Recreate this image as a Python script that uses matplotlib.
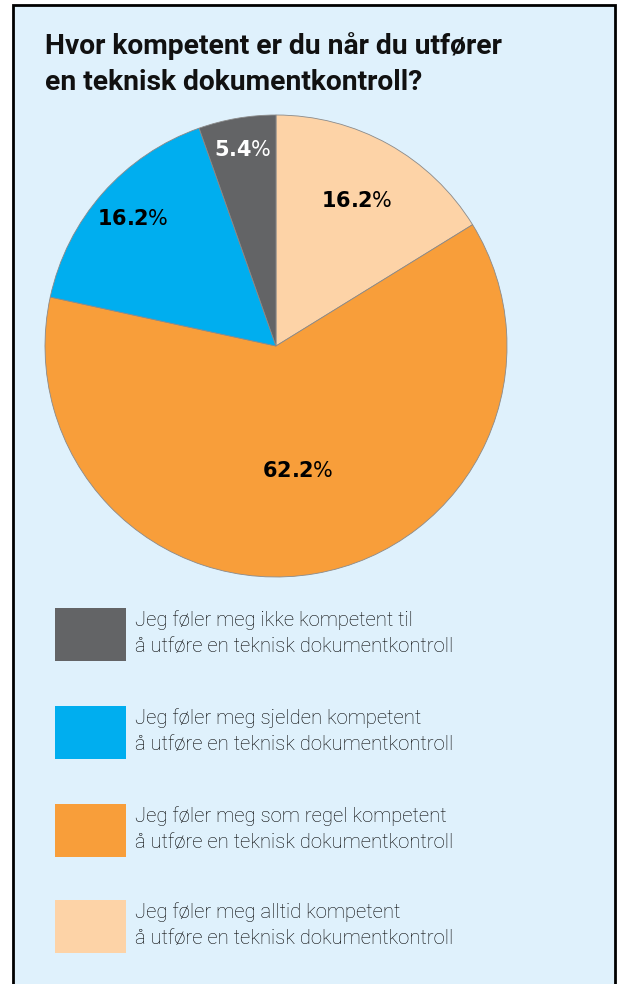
import matplotlib.pyplot as plt
from matplotlib.patches import Rectangle
import numpy as np

title = 'Hvor kompetent er du når du utfører\nen teknisk dokumentkontroll?'
values = [16.2, 62.2, 16.2, 5.4]
colors = ['#fdd3a7', '#f89e3a', '#00aeef', '#636466']
label_colors = ['black', 'black', 'black', 'white']
label_r = [0.72, 0.55, 0.83, 0.86]

legend_labels = [
    'Jeg føler meg ikke kompetent til\nå utføre en teknisk dokumentkontroll',
    'Jeg føler meg sjelden kompetent\nå utføre en teknisk dokumentkontroll',
    'Jeg føler meg som regel kompetent\nå utføre en teknisk dokumentkontroll',
    'Jeg føler meg alltid kompetent\nå utføre en teknisk dokumentkontroll',
]
legend_colors = ['#636466', '#00aeef', '#f89e3a', '#fdd3a7']

W, H = 625, 984
fig = plt.figure(figsize=(W / 100, H / 100), dpi=100)
fig.patch.set_facecolor('white')

# background axes in pixel coords (y downwards)
bg = fig.add_axes([0, 0, 1, 1])
bg.set_xlim(0, W)
bg.set_ylim(H, 0)
bg.axis('off')
bg.add_patch(Rectangle((13, 5), 602, 1000, facecolor='#dff1fc', edgecolor='black', linewidth=2))

bg.text(45, 64, title, fontsize=20.3, fontweight='bold', family='Roboto',
        va='center', ha='left', linespacing=1.45, color='#111111')

# pie
cx, cy, r = 276, 346, 231
ax = fig.add_axes([(cx - r) / W, 1 - (cy + r) / H, 2 * r / W, 2 * r / H])
wedges, _ = ax.pie(values, colors=colors, startangle=90, counterclock=False,
                   wedgeprops=dict(edgecolor='#8a8a8a', linewidth=0.6))
ax.set_xlim(-1, 1)
ax.set_ylim(-1, 1)
ax.set_aspect('auto')

for w, v, c, rr in zip(wedges, values, label_colors, label_r):
    ang = np.deg2rad((w.theta1 + w.theta2) / 2)
    ax.text(rr * np.cos(ang), rr * np.sin(ang), r'$\mathbf{%.1f}$%%' % v,
            ha='center', va='center', fontsize=15, color=c)

# legend
box_y = [608, 706, 804, 900]
for y, lab, col in zip(box_y, legend_labels, legend_colors):
    bg.add_patch(Rectangle((55, y), 71, 53, facecolor=col, edgecolor='none'))
    bg.text(135, y + 25, lab, fontsize=14.6, family='Roboto', fontweight='light',
            va='center', ha='left', linespacing=1.45, color='black')

fig.savefig('out.png', dpi=100)
